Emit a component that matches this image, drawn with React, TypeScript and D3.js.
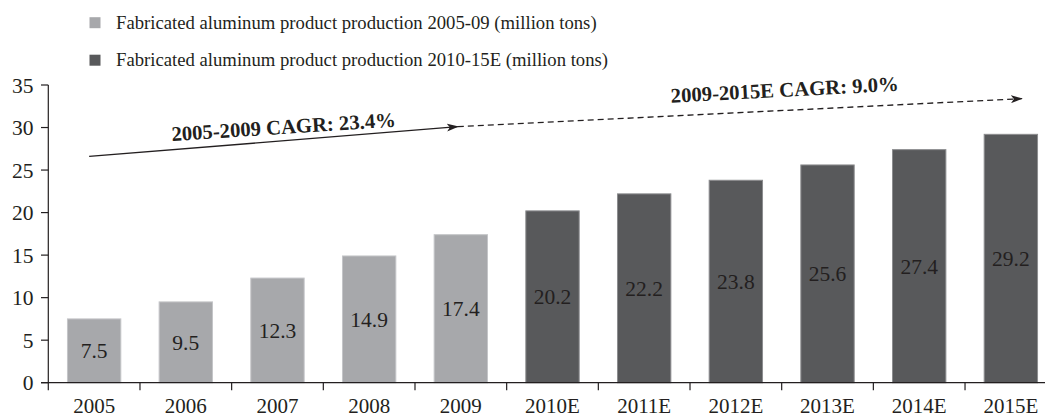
import React from "react";
import * as d3 from "d3";

const categories = ["2005", "2006", "2007", "2008", "2009", "2010E", "2011E", "2012E", "2013E", "2014E", "2015E"];
const values = [7.5, 9.5, 12.3, 14.9, 17.4, 20.2, 22.2, 23.8, 25.6, 27.4, 29.2];
const seriesOf = [0, 0, 0, 0, 0, 1, 1, 1, 1, 1, 1];
const seriesNames = [
  "Fabricated aluminum product production 2005-09 (million tons)",
  "Fabricated aluminum product production 2010-15E (million tons)",
];
const yTicks = [0, 5, 10, 15, 20, 25, 30, 35];
const cagrLabels = ["2005-2009 CAGR: 23.4%", "2009-2015E CAGR: 9.0%"];

const W = 1045;
const H = 417;
const FILL = ["#a7a8ab", "#58595b"];
const EDGE = ["#c4c5c8", "#8c8d8f"];
const INK = "#231f20";
const FONT = "Liberation Serif, Times New Roman, Times, serif";

export default function App() {
  const x = d3.scaleBand<string>().domain(categories).range([48.3, 1056.7]).paddingInner(0.418).paddingOuter(0.209);
  const y = d3.scaleLinear().domain([0, 35]).range([382.7, 85]);
  const step = x.step();
  const bw = x.bandwidth();
  const cx = (c: string) => (x(c) as number) + bw / 2;

  const a1 = { x1: cx("2005") - 5, y1: y(26.6), x2: cx("2009") - 3, y2: y(30.1) };
  const a2 = { x1: a1.x2, y1: a1.y2, x2: cx("2015E") + 11, y2: y(33.4) };

  const boundaries = d3.range(categories.length + 1).map((i) => 48.3 + i * step);
  const tStyle = { fontFamily: FONT };

  return (
    <svg width={W} height={H} style={{ position: "absolute", left: 0, top: 0, background: "#fff", fontFamily: FONT }}>
      <defs>
        <marker id="ah" viewBox="0 0 12 8" refX="11" refY="4" markerWidth="12" markerHeight="8" markerUnits="userSpaceOnUse" orient="auto">
          <path d="M0,0 L12,4 L0,8 L3,4 Z" fill={INK} />
        </marker>
      </defs>

      {seriesNames.map((n, i) => (
        <g key={n} transform={`translate(89.5, ${22.7 + i * 37.5})`}>
          <rect x={0} y={-5.5} width={11} height={11} fill={FILL[i]} />
          <text x={26.5} y={0} dy="0.33em" fontSize={18.7} fill={INK} style={tStyle}>{n}</text>
        </g>
      ))}

      {categories.map((c, i) => (
        <g key={c}>
          <rect
            x={x(c)}
            y={y(values[i])}
            width={bw}
            height={y(0) - y(values[i])}
            fill={FILL[seriesOf[i]]}
            stroke={EDGE[seriesOf[i]]}
            strokeWidth={1}
          />
          <text x={cx(c)} y={(y(values[i]) + y(0)) / 2} dy="0.35em" textAnchor="middle" fontSize={21.5} fill={INK} style={tStyle}>
            {values[i].toFixed(1)}
          </text>
        </g>
      ))}

      <line x1={48.3} x2={48.3} y1={y(35)} y2={y(0)} stroke={INK} strokeWidth={1.2} />
      {yTicks.map((t) => (
        <g key={t}>
          <line x1={41} x2={48.3} y1={y(t)} y2={y(t)} stroke={INK} strokeWidth={1.2} />
          <text x={33.5} y={y(t)} dy="0.35em" textAnchor="end" fontSize={21.5} fill={INK} style={tStyle}>{t}</text>
        </g>
      ))}

      <line x1={41} x2={W} y1={y(0)} y2={y(0)} stroke={INK} strokeWidth={1.2} />
      {boundaries.map((b, i) => (
        <line key={i} x1={b} x2={b} y1={y(0)} y2={y(0) + 7.5} stroke={INK} strokeWidth={1.2} />
      ))}
      {categories.map((c) => (
        <text key={c} x={cx(c)} y={413} textAnchor="middle" fontSize={21} fill={INK} style={tStyle}>{c}</text>
      ))}

      <line x1={a1.x1} y1={a1.y1} x2={a1.x2} y2={a1.y2} stroke={INK} strokeWidth={1.3} markerEnd="url(#ah)" />
      <line x1={a2.x1} y1={a2.y1} x2={a2.x2} y2={a2.y2} stroke={INK} strokeWidth={1.3} strokeDasharray="6,4" markerEnd="url(#ah)" />
      <text transform={`translate(284, 133.8) rotate(-3.7)`} textAnchor="middle" fontSize={20.7} fontWeight="bold" fill={INK} style={tStyle}>
        {cagrLabels[0]}
      </text>
      <text transform={`translate(785, 96.7) rotate(-3)`} textAnchor="middle" fontSize={20.7} fontWeight="bold" fill={INK} style={tStyle}>
        {cagrLabels[1]}
      </text>
    </svg>
  );
}
